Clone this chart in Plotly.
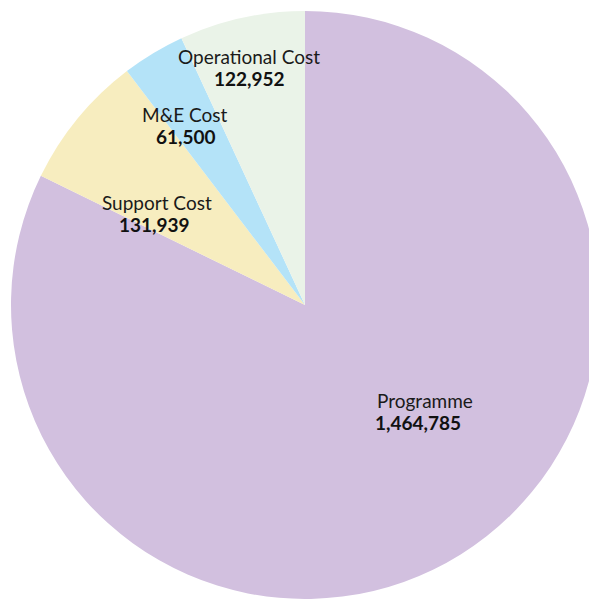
import plotly.graph_objects as go

# Data
categories = ["Programme", "Support Cost", "M&E Cost", "Operational Cost"]
values = [1464785, 131939, 61500, 122952]
colors = ["#D2C0DF", "#F7EDBF", "#B4E3F8", "#EAF3E8"]

# Label layout (pixel positions of label centres: name line, value line)
label_pos = {
    "Programme": ((425, 400), (418, 422)),
    "Support Cost": ((157, 202), (154, 224)),
    "M&E Cost": ((185, 114), (186, 136)),
    "Operational Cost": ((249, 57), (249, 78)),
}

W, H = 600, 599
OFF_X, OFF_Y = 10, 11  # pie domain offset from left/top in pixels

fig = go.Figure(go.Pie(
    labels=categories,
    values=values,
    sort=False,
    direction="clockwise",
    rotation=0,
    marker=dict(colors=colors, line=dict(width=0)),
    textinfo="none",
    hoverinfo="label+value",
    domain=dict(x=[OFF_X / W, 1], y=[0, 1 - OFF_Y / H]),
    showlegend=False,
))

anns = []
for cat, val in zip(categories, values):
    (nx, ny), (vx, vy) = label_pos[cat]
    anns.append(dict(x=nx / W, y=1 - ny / H, xref="paper", yref="paper",
                     text=cat, showarrow=False, xanchor="center", yanchor="middle",
                     font=dict(family="Lato", size=19, color="#1a1a1a")))
    anns.append(dict(x=vx / W, y=1 - vy / H, xref="paper", yref="paper",
                     text=f"<b>{val:,}</b>", showarrow=False, xanchor="center", yanchor="middle",
                     font=dict(family="Lato", size=19, color="#111111")))

fig.update_layout(
    width=W, height=H,
    margin=dict(l=0, r=0, t=0, b=0),
    paper_bgcolor="white",
    plot_bgcolor="white",
    annotations=anns,
)

post = ("document.body.style.margin='0';document.body.style.overflow='hidden';"
        "document.documentElement.style.overflow='hidden';")
fig.write_html("out.html", post_script=post, config={"displayModeBar": False})
